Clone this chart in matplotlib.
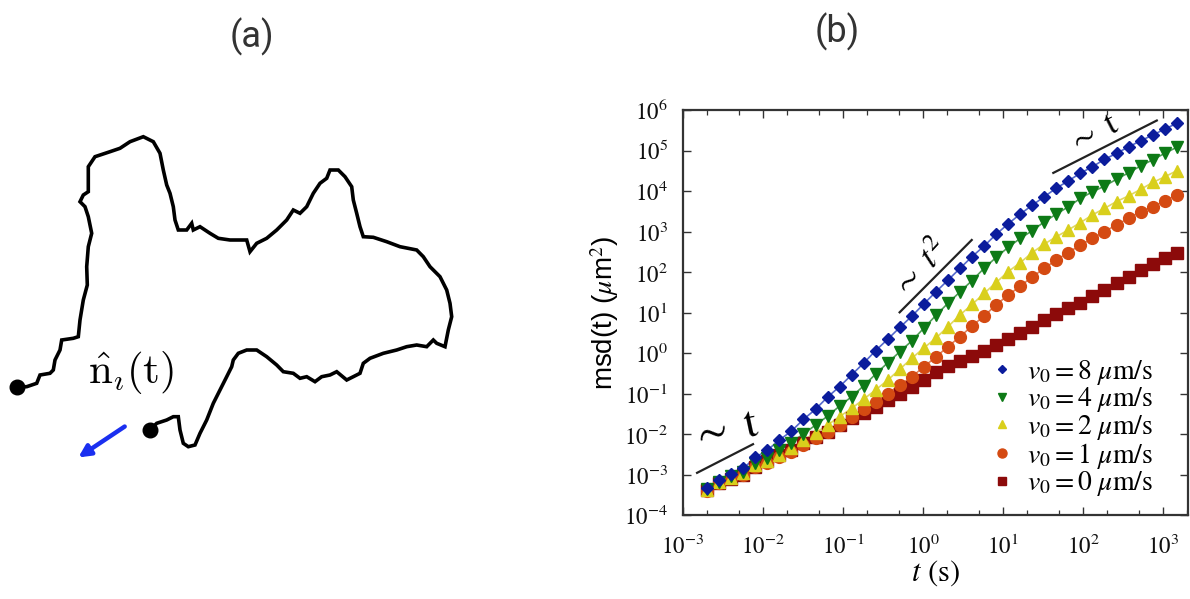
import numpy as np
import matplotlib
matplotlib.use("Agg")
import matplotlib.pyplot as plt
from matplotlib.lines import Line2D
from matplotlib.ticker import LogLocator, LogFormatterSciNotation, NullFormatter

plt.rcParams['font.family'] = ['STIXGeneral', 'DejaVu Sans']
plt.rcParams['mathtext.fontset'] = 'stix'

# %% data: lag time (s) and log10 of msd (um^2)
t_s = [0.002, 0.00283, 0.004, 0.00566, 0.008, 0.0113, 0.016, 0.0226, 0.032, 0.0453,
       0.064, 0.0905, 0.128, 0.181, 0.256, 0.362, 0.512, 0.724, 1.02, 1.45,
       2.05, 2.90, 4.10, 5.79, 8.19, 11.6, 16.4, 23.2, 32.8, 46.3,
       65.5, 92.7, 131, 185, 262, 371, 524, 741, 1049, 1483]

log_msd_v8 = [-3.33, -3.14, -2.99, -2.85, -2.58, -2.40, -2.15, -1.93, -1.64, -1.39,
              -1.09, -0.83, -0.54, -0.25, 0.06, 0.34, 0.63, 0.91, 1.21, 1.51,
              1.80, 2.09, 2.38, 2.64, 2.93, 3.19, 3.43, 3.65, 3.86, 4.07,
              4.25, 4.44, 4.60, 4.78, 4.93, 5.09, 5.24, 5.38, 5.53, 5.67]
log_msd_v4 = [-3.36, -3.18, -3.04, -2.93, -2.72, -2.60, -2.40, -2.21, -2.00, -1.78,
              -1.56, -1.31, -1.08, -0.81, -0.52, -0.24, 0.03, 0.30, 0.61, 0.93,
              1.23, 1.51, 1.79, 2.09, 2.36, 2.61, 2.83, 3.02, 3.24, 3.43,
              3.61, 3.82, 3.98, 4.12, 4.29, 4.45, 4.62, 4.77, 4.93, 5.08]
log_msd_v2 = [-3.38, -3.19, -3.08, -2.97, -2.77, -2.66, -2.52, -2.35, -2.15, -1.97,
              -1.78, -1.57, -1.37, -1.14, -0.91, -0.67, -0.40, -0.13, 0.12, 0.37,
              0.65, 0.94, 1.20, 1.47, 1.74, 2.01, 2.23, 2.48, 2.69, 2.87,
              3.04, 3.22, 3.41, 3.57, 3.74, 3.88, 4.04, 4.21, 4.35, 4.50]
log_msd_v1 = [-3.40, -3.21, -3.09, -3.01, -2.81, -2.71, -2.58, -2.44, -2.27, -2.11,
              -1.94, -1.78, -1.59, -1.39, -1.20, -1.00, -0.79, -0.59, -0.34, -0.10,
              0.16, 0.40, 0.67, 0.91, 1.19, 1.43, 1.65, 1.88, 2.09, 2.30,
              2.48, 2.67, 2.83, 3.00, 3.16, 3.33, 3.49, 3.61, 3.76, 3.90]
log_msd_v0 = [-3.38, -3.22, -3.12, -3.01, -2.81, -2.66, -2.52, -2.40, -2.23, -2.08,
              -1.94, -1.78, -1.61, -1.47, -1.33, -1.16, -1.01, -0.83, -0.66, -0.48,
              -0.33, -0.19, -0.07, 0.06, 0.20, 0.34, 0.50, 0.65, 0.81, 0.96,
              1.10, 1.24, 1.41, 1.56, 1.72, 1.87, 2.05, 2.20, 2.34, 2.48]

labels = [r'$v_0 = 8\ \mu\mathrm{m/s}$', r'$v_0 = 4\ \mu\mathrm{m/s}$',
          r'$v_0 = 2\ \mu\mathrm{m/s}$', r'$v_0 = 1\ \mu\mathrm{m/s}$',
          r'$v_0 = 0\ \mu\mathrm{m/s}$']
colors = ['#0b1c9c', '#0d7a16', '#d9cf1c', '#d44a12', '#8c0a0a']
line_colors = ['#5468cc', '#4e9e55', '#e0d860', '#e2805a', '#b04848']
markers = ['D', 'v', '^', 'o', 's']
msizes = [6.5, 8, 8, 8.5, 8]

# scaling guides (t range, msd range)
guide_t1, guide_y1 = [1.5e-3, 7.5e-3], [1.1e-3, 5.6e-3]
guide_t2, guide_y2 = [0.51, 4.06], [10.1, 617]
guide_t3, guide_y3 = [42.5, 835], [2.8e4, 5.5e5]

# panel (a): trajectory outline in figure pixels
traj_x = [16.7, 26.7, 36.7, 40, 50, 53.3, 55, 60, 61.7, 73.3, 78.3, 80, 83.3, 87.3, 86.7,
          88.3, 91.7, 88.3, 85, 80, 83.3, 88.3, 88.3, 95, 110, 120, 130, 143.3, 153.3,
          160, 163.3, 166.7, 170, 173.3, 175, 178.3, 186.7, 191.7, 193.3, 200, 210,
          218.3, 230, 246.7, 250, 256.7, 266.7, 276.7, 286.7, 293.3, 300, 306.7, 313.3,
          320, 326.7, 330, 338.3, 345, 351.7, 353.3, 356.7, 360, 363.3, 373.3, 386.7,
          400, 416.7, 423.3, 430, 440, 446.7, 450, 451.7, 448.3, 445, 436.7, 433.3,
          426.7, 416.7, 406.7, 396.7, 383.3, 370, 363.3, 360, 353.3, 346.7, 336.7,
          330, 321.7, 315, 306.7, 300, 293.3, 283.3, 276.7, 266.7, 256.7, 246.7,
          238.3, 233.3, 231.7, 226.7, 220, 213.3, 206.7, 200, 195, 188.3, 183.3, 180,
          178.3, 173.3, 166.7, 156.7, 150]
traj_y = [386.7, 386.7, 383.3, 375, 373.3, 370, 360, 350, 340, 338.3, 336.7, 320, 300,
          285, 266.7, 246.7, 233.3, 216.7, 206.7, 201.7, 195, 191.7, 166.7, 156.7,
          151.7, 148.3, 141.7, 136.7, 141.7, 153.3, 170, 185, 193.3, 206.7, 220, 230,
          230, 223.3, 230, 226.7, 233.3, 238.3, 240, 240, 251.7, 243.3, 238.3, 230,
          220, 210, 213.3, 206.7, 193.3, 183.3, 178.3, 170, 170, 176.7, 186.7, 200,
          213.3, 226.7, 236.7, 237.3, 241.7, 246.7, 250, 256.7, 266.7, 276.7, 290,
          303.3, 316.7, 330, 346.7, 343.3, 340, 346.7, 345, 346.7, 350, 353.3, 358.3,
          363.3, 373.3, 376.7, 380, 371.7, 375, 376.7, 381.7, 376.7, 378.3, 373.3,
          371.7, 365, 356.7, 350, 350, 353.3, 360, 366.7, 376.7, 390, 403.3, 420,
          433.3, 445, 446.7, 443.3, 430, 416.7, 416.7, 420, 423.3, 430]

W, H = 1190, 599
fig = plt.figure(figsize=(W / 100, H / 100), dpi=100)

# %% panel (a)
axa = fig.add_axes([0, 0, 1, 1])
axa.set_xlim(0, W)
axa.set_ylim(H, 0)
axa.axis('off')
axa.plot(traj_x, traj_y, color='black', lw=2.6, solid_joinstyle='miter')
axa.plot([traj_x[0], traj_x[-1]], [traj_y[0], traj_y[-1]], 'o', color='black', ms=10.5)
axa.annotate('', xy=(76, 459), xytext=(127, 425),
             arrowprops=dict(arrowstyle='-|>,head_length=0.7,head_width=0.35',
                             color='#1a2ff0', lw=3.2))
axa.text(131, 372, r'$\hat{\mathrm{n}}_{\imath}(\mathrm{t})$', fontsize=31,
         ha='center', va='center', math_fontfamily='cm')
fig.text(252 / W, 1 - 37 / H, '(a)', fontsize=26, family='Roboto', color='#333333',
         ha='center', va='center')
fig.text(837 / W, 1 - 32 / H, '(b)', fontsize=26, family='Roboto', color='#333333',
         ha='center', va='center')

# %% panel (b)
ax = fig.add_axes([683 / W, 1 - 515 / H, 505 / W, 405 / H])
series = [log_msd_v8, log_msd_v4, log_msd_v2, log_msd_v1, log_msd_v0]
for i in range(len(series) - 1, -1, -1):
    ax.plot(t_s, 10.0 ** np.array(series[i]), color=line_colors[i], lw=1.2, zorder=2)
    ax.plot(t_s, 10.0 ** np.array(series[i]), ls='none', marker=markers[i],
            ms=msizes[i], color=colors[i], mec=colors[i], zorder=3)

ax.set_xscale('log')
ax.set_yscale('log')
ax.set_xlim(1e-3, 2050)
ax.set_ylim(1e-4, 1e6)
ax.xaxis.set_major_locator(LogLocator(base=10, numticks=20))
ax.xaxis.set_minor_locator(LogLocator(base=10, subs=(2.0, 5.0), numticks=20))
ax.xaxis.set_minor_formatter(NullFormatter())
ax.yaxis.set_major_locator(LogLocator(base=10, numticks=20))
ax.yaxis.set_minor_locator(LogLocator(base=10, subs=(), numticks=20))
ax.xaxis.set_major_formatter(LogFormatterSciNotation())
ax.yaxis.set_major_formatter(LogFormatterSciNotation())
ax.tick_params(which='both', direction='in', top=True, right=True, colors='#333333',
               labelcolor='#111111', labelsize=16.5)
ax.tick_params(which='major', length=6, width=1)
ax.tick_params(which='minor', length=3.5, width=0.9)
ax.tick_params(axis='x', pad=14)
ax.tick_params(axis='y', pad=11)
for s in ax.spines.values():
    s.set_color('#333333')
    s.set_linewidth(1.6)

ax.set_xlabel(r'$t$ (s)', fontsize=22, labelpad=0)
ax.set_ylabel(r'msd(t) ($\mu$m$^2$)', fontsize=20, family='Liberation Sans', labelpad=2)

for gt, gy in [(guide_t1, guide_y1), (guide_t2, guide_y2), (guide_t3, guide_y3)]:
    ax.plot(gt, gy, color='#222222', lw=1.6, zorder=4)
ax.text(3.3e-3, 1.15e-2, r'$\sim\ \mathrm{t}$', fontsize=32, rotation=12,
        ha='center', va='center', rotation_mode='anchor')
ax.text(0.95, 112, r'$\sim\ t^2$', fontsize=25, rotation=47,
        ha='center', va='center', rotation_mode='anchor')
ax.text(135, 2.5e5, r'$\sim\ \mathrm{t}$', fontsize=25, rotation=27,
        ha='center', va='center', rotation_mode='anchor')

handles = [Line2D([], [], ls='none', marker=markers[i], color=colors[i],
                  ms=msizes[i] - 2) for i in range(5)]
ax.legend(handles, labels, loc='lower right', frameon=False, fontsize=20,
          handlelength=0.8, handletextpad=0.5, labelspacing=-0.05,
          borderaxespad=0.2, bbox_to_anchor=(0.965, 0.0))

fig.savefig('out.png', dpi=100)
